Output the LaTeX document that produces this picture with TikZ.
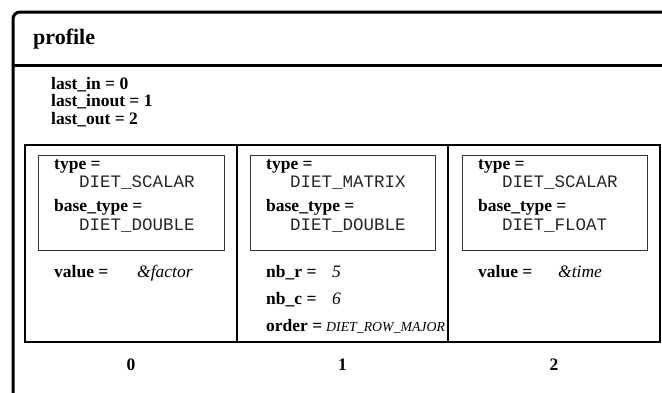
\documentclass[tikz,border=0pt]{standalone}
\usepackage{fontspec}
\setmainfont{Liberation Serif}
\setmonofont{Liberation Mono}
\tikzset{
  lbl/.style={anchor=base west, inner sep=0pt, font=\fontsize{17.5}{17.5}\selectfont\bfseries},
  idx/.style={anchor=base, inner sep=0pt, font=\fontsize{17.5}{17.5}\selectfont\bfseries},
  ttl/.style={anchor=base west, inner sep=0pt, font=\fontsize{22}{22}\selectfont\bfseries},
  mono/.style={anchor=base west, inner sep=0pt, text=black!85, font=\fontsize{17.5}{17.5}\selectfont\ttfamily},
  val/.style={anchor=base west, inner sep=0pt, font=\fontsize{17.5}{17.5}\selectfont\itshape},
  smallval/.style={anchor=base west, inner sep=0pt, font=\fontsize{13.8}{13.8}\selectfont\itshape},
  frameline/.style={line width=3pt},
  cellline/.style={line width=1.6pt},
  innerbox/.style={line width=1pt, draw=black!80},
}
\begin{document}
\begin{tikzpicture}[x=1pt,y=-1pt]
\useasboundingbox (0,0) rectangle (662,392);
\begin{scope}
\clip (0,0) rectangle (662,392);
\draw[frameline, rounded corners=7pt] (13,400) -- (13,12) -- (680,12);
\draw[frameline] (13,65) -- (680,65);
\end{scope}
% title and header
\node[ttl] (title) at (33,44) {profile};
\node[lbl] (lin) at (51,89) {last\_in = 0};
\node[lbl] (linout) at (51,106.5) {last\_inout = 1};
\node[lbl] (lout) at (51,124) {last\_out = 2};
% table
\draw[cellline] (25,145) rectangle (660,342);
\draw[cellline] (237,145) -- (237,342);
\draw[cellline] (448,145) -- (448,342);
% inner boxes
\draw[innerbox] (38,155) rectangle (224,250);
\draw[innerbox] (250,155) rectangle (435,250);
\draw[innerbox] (462,155) rectangle (647,250);
% column 0
\node[lbl] (t0) at (54,169.5) {type =};
\node[mono] (tv0) at (79,187) {DIET\_SCALAR};
\node[lbl] (b0) at (54,211.5) {base\_type =};
\node[mono] (bv0) at (79,230) {DIET\_DOUBLE};
\node[lbl] (v0) at (54,277) {value =};
\node[val] (vv0) at (137,277) {\&factor};
% column 1
\node[lbl] (t1) at (266,169.5) {type =};
\node[mono] (tv1) at (290,187) {DIET\_MATRIX};
\node[lbl] (b1) at (266,211.5) {base\_type =};
\node[mono] (bv1) at (290,230) {DIET\_DOUBLE};
\node[lbl] (r1) at (266,277) {nb\_r =};
\node[val] (rv1) at (332,277) {5};
\node[lbl] (c1) at (266,304) {nb\_c =};
\node[val] (cv1) at (332,304) {6};
\node[lbl] (o1) at (266,331) {order =};
\node[smallval] (ov1) at (326,331) {DIET\_ROW\_MAJOR};
% column 2
\node[lbl] (t2) at (478,169.5) {type =};
\node[mono] (tv2) at (502,187) {DIET\_SCALAR};
\node[lbl] (b2) at (478,211.5) {base\_type =};
\node[mono] (bv2) at (502,230) {DIET\_FLOAT};
\node[lbl] (v2) at (478,277) {value =};
\node[val] (vv2) at (558,277) {\&time};
% indices
\node[idx] (i0) at (131,370) {0};
\node[idx] (i1) at (342.5,370) {1};
\node[idx] (i2) at (554,370) {2};
\end{tikzpicture}
\end{document}
